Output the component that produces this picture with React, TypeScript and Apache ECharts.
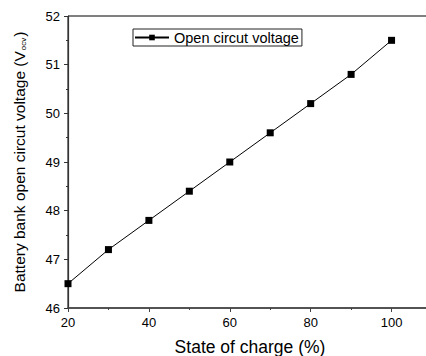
import React, { useEffect, useRef } from "react";
import * as echarts from "echarts";

const stateOfCharge = [20, 30, 40, 50, 60, 70, 80, 90, 100];
const voltage = [46.5, 47.2, 47.8, 48.4, 49.0, 49.6, 50.2, 50.8, 51.5];
const seriesName = "Open circut voltage";
const xTitle = "State of charge (%)";

export default function App() {
  const ref = useRef<HTMLDivElement>(null);
  useEffect(() => {
    if (!ref.current) return;
    const chart = echarts.init(ref.current, null, { renderer: "svg" });
    const font = "Liberation Sans, Arial, sans-serif";
    chart.setOption({
      animation: false,
      backgroundColor: "#fff",
      grid: {
        left: 68,
        top: 16,
        width: 364,
        height: 292,
        outerBoundsMode: "none",
        containLabel: false,
        show: true,
        borderColor: "#000",
        borderWidth: 1,
        backgroundColor: "transparent",
      },
      legend: {
        left: 133,
        top: 29,
        itemWidth: 34,
        itemHeight: 7,
        itemGap: 4,
        padding: [1, 3, 1, 1],
        borderColor: "#222",
        borderWidth: 1,
        textStyle: { fontFamily: font, fontSize: 14.5, color: "#000", padding: [0, 0, 0, 0] },
        data: [seriesName],
      },
      xAxis: {
        type: "value",
        min: 20,
        max: 110,
        interval: 20,
        name: xTitle,
        nameLocation: "middle",
        nameGap: 30,
        nameTextStyle: { fontFamily: font, fontSize: 17.5, color: "#000" },
        axisLine: { show: true, lineStyle: { color: "#444", width: 1.5 } },
        axisTick: { show: true, length: 4, lineStyle: { color: "#444", width: 1 } },
        minorTick: { show: true, splitNumber: 2, length: 2, lineStyle: { color: "#444", width: 1 } },
        splitLine: { show: false },
        axisLabel: {
          fontFamily: font,
          fontSize: 13,
          color: "#000",
          margin: 8,
          showMaxLabel: false,
          formatter: (v: number) => (v % 20 === 0 && v <= 100 ? String(v) : ""),
        },
      },
      yAxis: {
        type: "value",
        min: 46,
        max: 52,
        interval: 1,
        name: "{m|Battery bank open circut voltage (V}{s|ocv}{m|)}",
        nameLocation: "middle",
        nameGap: 41,
        nameTextStyle: {
          fontFamily: font,
          fontSize: 15.5,
          color: "#000",
          padding: [0, 0, 0, 0],
          rich: {
            m: { fontFamily: font, fontSize: 15.5, color: "#000", lineHeight: 18, verticalAlign: "bottom" },
            s: { fontFamily: font, fontSize: 8, color: "#000", lineHeight: 18, verticalAlign: "bottom", padding: [0, 1, 0, 1] },
          },
        },
        axisLine: { show: true, lineStyle: { color: "#333", width: 1.2 } },
        axisTick: { show: true, length: 4, lineStyle: { color: "#333", width: 1 } },
        minorTick: { show: true, splitNumber: 2, length: 2, lineStyle: { color: "#333", width: 1 } },
        splitLine: { show: false },
        axisLabel: { fontFamily: font, fontSize: 13, color: "#000", margin: 8 },
      },
      series: [
        {
          name: seriesName,
          type: "line",
          data: stateOfCharge.map((x, i) => [x, voltage[i]]),
          symbol: "rect",
          symbolSize: 7,
          itemStyle: { color: "#000" },
          lineStyle: { color: "#000", width: 1 },
        },
      ],
    });
    return () => chart.dispose();
  }, []);
  return (
    <div
      ref={ref}
      style={{ position: "fixed", left: 0, top: 0, width: 426, height: 356, background: "#fff" }}
    />
  );
}
